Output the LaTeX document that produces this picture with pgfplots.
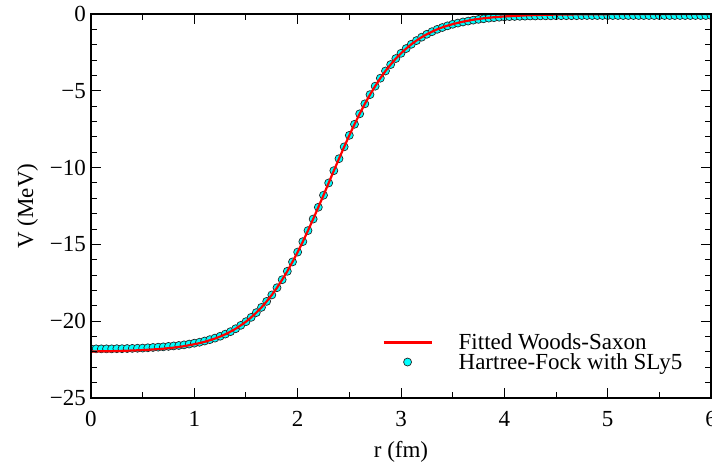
\documentclass[border=0pt]{standalone}
\usepackage{fontspec}
\setmainfont{Liberation Serif}
\usepackage{pgfplots}
\usepackage{pgfplotstable}
\pgfplotsset{compat=1.18}
\definecolor{aqua}{RGB}{0,255,255}

\pgfplotsset{
  hf legend/.style={legend image code/.code={\draw[mark repeat=2,mark phase=2,##1]
    plot coordinates {(0pt,0pt)(24pt,0pt)(48pt,0pt)};}},
  ws legend/.style={legend image code/.code={\draw[##1] (0pt,0pt) -- (48pt,0pt);}},
}

% Hartree-Fock (SLy5) points, r in fm, V in MeV
\pgfplotstableread{
r V
0.00 -21.80
0.05 -21.80
0.10 -21.80
0.15 -21.80
0.20 -21.80
0.25 -21.79
0.30 -21.79
0.35 -21.78
0.40 -21.77
0.45 -21.76
0.50 -21.75
0.55 -21.73
0.60 -21.71
0.65 -21.69
0.70 -21.67
0.75 -21.64
0.80 -21.61
0.85 -21.58
0.90 -21.54
0.95 -21.49
1.00 -21.43
1.05 -21.37
1.10 -21.29
1.15 -21.20
1.20 -21.10
1.25 -20.98
1.30 -20.84
1.35 -20.68
1.40 -20.49
1.45 -20.27
1.50 -20.03
1.55 -19.75
1.60 -19.44
1.65 -19.10
1.70 -18.71
1.75 -18.29
1.80 -17.82
1.85 -17.30
1.90 -16.75
1.95 -16.14
2.00 -15.50
2.05 -14.82
2.10 -14.10
2.15 -13.35
2.20 -12.58
2.25 -11.80
2.30 -11.00
2.35 -10.20
2.40 -9.42
2.45 -8.65
2.50 -7.90
2.55 -7.18
2.60 -6.50
2.65 -5.85
2.70 -5.25
2.75 -4.70
2.80 -4.18
2.85 -3.71
2.90 -3.29
2.95 -2.90
3.00 -2.56
3.05 -2.25
3.10 -1.97
3.15 -1.73
3.20 -1.51
3.25 -1.32
3.30 -1.15
3.35 -1.00
3.40 -0.88
3.45 -0.77
3.50 -0.67
3.55 -0.59
3.60 -0.52
3.65 -0.46
3.70 -0.40
3.75 -0.35
3.80 -0.31
3.85 -0.27
3.90 -0.24
3.95 -0.21
4.00 -0.19
4.05 -0.17
4.10 -0.16
4.15 -0.15
4.20 -0.14
4.25 -0.13
4.30 -0.13
4.35 -0.12
4.40 -0.12
4.45 -0.12
4.50 -0.11
4.55 -0.11
4.60 -0.11
4.65 -0.11
4.70 -0.11
4.75 -0.10
4.80 -0.10
4.85 -0.10
4.90 -0.10
4.95 -0.10
5.00 -0.10
5.05 -0.10
5.10 -0.10
5.15 -0.10
5.20 -0.10
5.25 -0.10
5.30 -0.10
5.35 -0.10
5.40 -0.10
5.45 -0.10
5.50 -0.10
5.55 -0.10
5.60 -0.10
5.65 -0.10
5.70 -0.10
5.75 -0.10
5.80 -0.10
5.85 -0.10
5.90 -0.10
5.95 -0.10
6.00 -0.10
}\hfdata

% fitted Woods-Saxon curve
\pgfplotstableread{
r V
0.00 -21.97
0.10 -21.96
0.20 -21.95
0.30 -21.93
0.40 -21.91
0.50 -21.88
0.60 -21.84
0.70 -21.79
0.80 -21.72
0.90 -21.63
1.00 -21.50
1.05 -21.43
1.10 -21.34
1.15 -21.24
1.20 -21.13
1.25 -21.00
1.30 -20.85
1.35 -20.68
1.40 -20.49
1.45 -20.27
1.50 -20.03
1.55 -19.75
1.60 -19.44
1.65 -19.10
1.70 -18.71
1.75 -18.29
1.80 -17.82
1.85 -17.30
1.90 -16.75
1.95 -16.14
2.00 -15.50
2.05 -14.82
2.10 -14.10
2.15 -13.35
2.20 -12.58
2.25 -11.80
2.30 -11.00
2.35 -10.20
2.40 -9.42
2.45 -8.65
2.50 -7.90
2.55 -7.18
2.60 -6.50
2.65 -5.85
2.70 -5.25
2.75 -4.70
2.80 -4.18
2.85 -3.71
2.90 -3.29
2.95 -2.90
3.00 -2.56
3.05 -2.25
3.10 -1.97
3.15 -1.73
3.20 -1.51
3.25 -1.32
3.30 -1.15
3.35 -1.00
3.40 -0.87
3.45 -0.76
3.50 -0.66
3.60 -0.50
3.70 -0.37
3.80 -0.28
3.90 -0.21
4.00 -0.16
4.20 -0.09
4.40 -0.05
4.60 -0.03
4.80 -0.02
5.00 -0.01
5.50 0.00
6.00 0.00
}\wsdata

\begin{document}
\begin{tikzpicture}[font=\fontsize{23}{25}\selectfont]
\begin{axis}[
  name=ax,
  scale only axis,
  width=620pt, height=384pt,
  xmin=0, xmax=6, ymin=-25, ymax=0,
  xtick={0,1,2,3,4,5,6},
  ytick={-25,-20,-15,-10,-5,0},
  yticklabels={−25,−20,−15,−10,−5,0},
  minor x tick num=1,
  minor y tick num=4,
  tick align=inside,
  major tick length=10pt,
  minor tick length=6pt,
  every tick/.style={black, line width=1pt},
  axis line style={line width=2pt},
  axis on top,
  clip marker paths=true,
  /pgf/number format/assume math mode=true,
  xticklabel style={inner sep=0pt, anchor=north, yshift=-13pt},
  yticklabel style={inner sep=0pt, anchor=east, xshift=-5pt},
  xlabel={r (fm)},
  ylabel={V (MeV)},
  every axis x label/.style={at={(rel axis cs:0.5,-0.156)}, anchor=base},
  every axis y label/.style={at={(rel axis cs:-0.0935,0.5)}, anchor=base, rotate=90},
  reverse legend,
  legend cell align=left,
  legend style={draw=none, fill=none, at={(0.962,0.060)}, anchor=south east,
    row sep=-2pt, nodes={inner sep=2pt},
    /tikz/every odd column/.append style={column sep=24pt}},
]
\addplot[only marks, mark=*, mark size=4pt,
  mark options={fill=aqua, draw=black!85, line width=0.7pt}, hf legend]
  table[x=r, y=V] {\hfdata};
\addlegendentry{Hartree-Fock with SLy5}
\addplot[red, line width=2.2pt, ws legend]
  table[x=r, y=V] {\wsdata};
\addlegendentry{Fitted Woods-Saxon}
\end{axis}
\pgfresetboundingbox
\path[use as bounding box] ([xshift=-91pt,yshift=-67pt]ax.south west)
  rectangle ([xshift=1pt,yshift=14pt]ax.north east);
\end{tikzpicture}
\end{document}
